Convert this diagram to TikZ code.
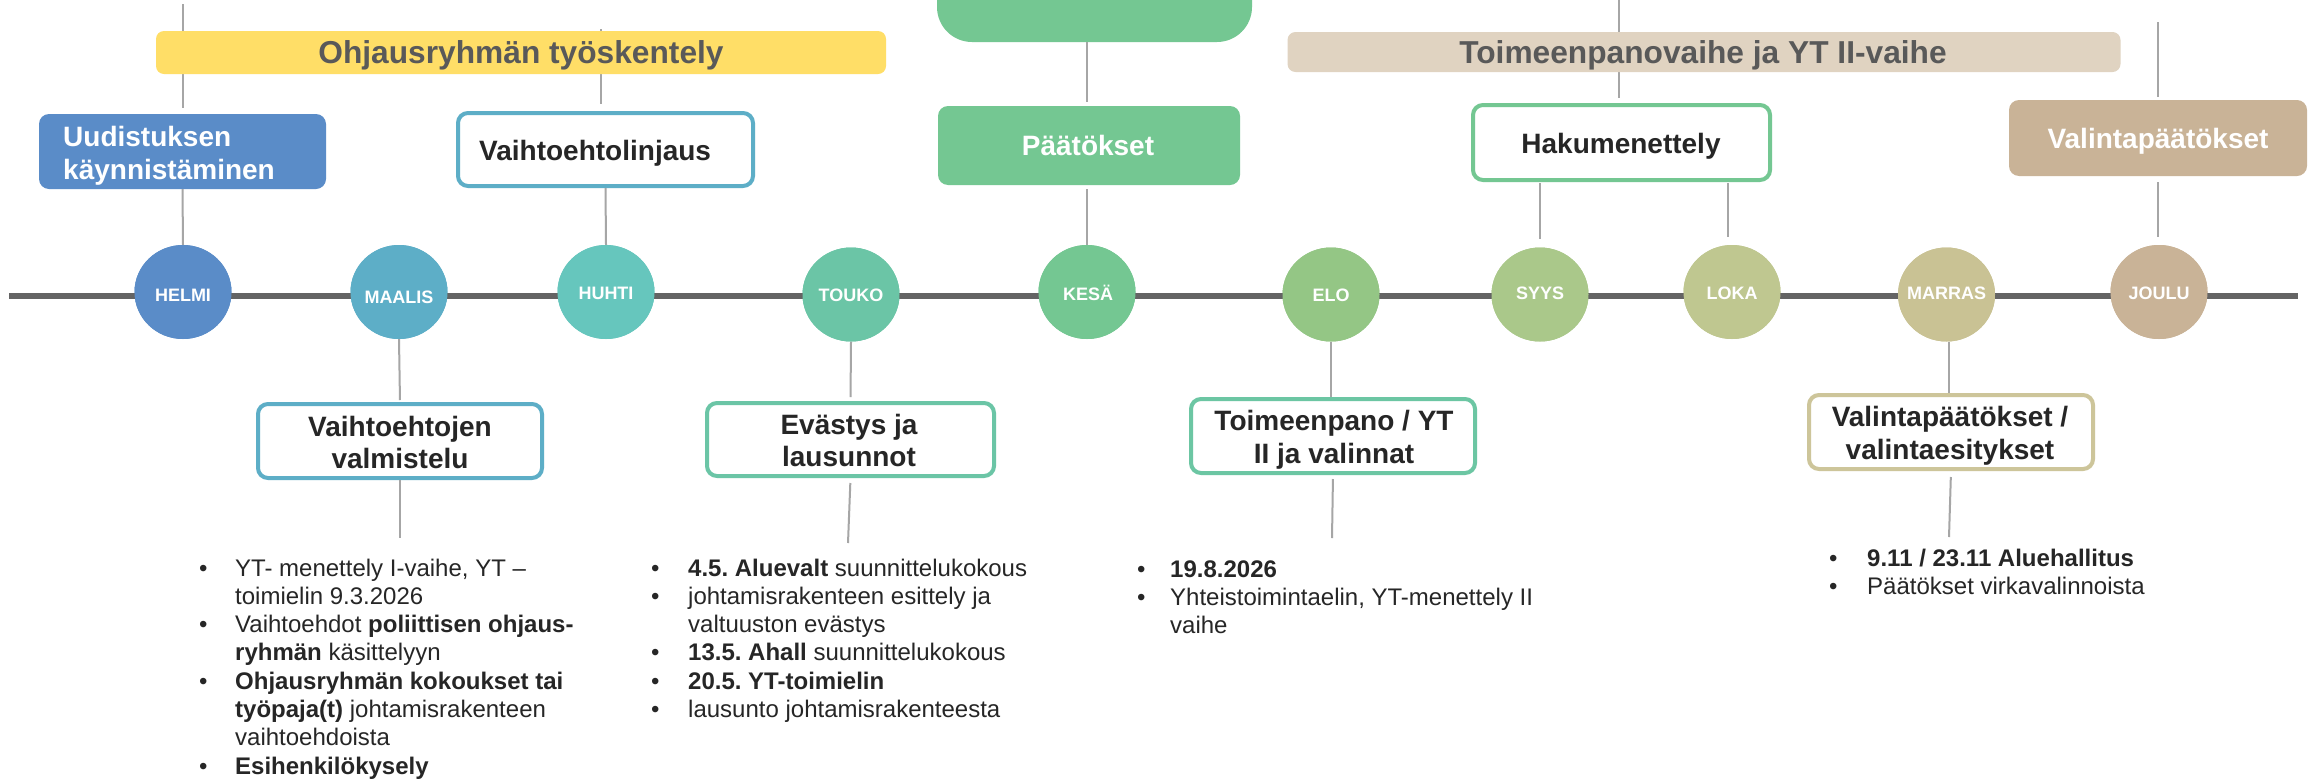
\documentclass[tikz,border=0pt]{standalone}
\usepackage{fontspec}
\setmainfont{Liberation Sans}
\usetikzlibrary{shapes.geometric}
\definecolor{cHelmi}{HTML}{5A8CC8}
\definecolor{cMaalis}{HTML}{5DAEC7}
\definecolor{cHuhti}{HTML}{66C6BD}
\definecolor{cTouko}{HTML}{6BC5A6}
\definecolor{cKesa}{HTML}{74C792}
\definecolor{cElo}{HTML}{94C685}
\definecolor{cSyys}{HTML}{AAC88A}
\definecolor{cLoka}{HTML}{BFC790}
\definecolor{cMarras}{HTML}{C9C294}
\definecolor{cJoulu}{HTML}{C9B397}
\definecolor{cYellow}{HTML}{FFDE67}
\definecolor{cTan}{HTML}{E0D3C1}
\definecolor{cLine}{HTML}{A6A6A6}
\definecolor{cAxis}{HTML}{646464}
\definecolor{cBar}{HTML}{595959}
\definecolor{cText}{HTML}{262626}
\definecolor{cToimB}{HTML}{6CC6A3}
\definecolor{cValB}{HTML}{CDC59A}
\newcommand{\bu}[1]{\makebox[#1][l]{\textbullet}}
\frenchspacing
\begin{document}
\begin{tikzpicture}[x=1pt,y=-1pt,
  conn/.style={draw=cLine, line width=2pt},
  month/.style={ellipse, fill=#1, minimum width=97pt, minimum height=94pt, inner sep=0pt},
  mlab/.style={text=white, font=\bfseries\fontsize{18}{20}\selectfont, inner sep=0pt, text height=13pt, text depth=0pt},
  fillbox/.style={rectangle, rounded corners=10pt, fill=#1, inner sep=0pt},
  linebox/.style={rectangle, rounded corners=10pt, draw=#1, line width=4pt, fill=white, inner sep=0pt},
  barbox/.style={rectangle, rounded corners=8pt, fill=#1, inner sep=0pt},
  ttl/.style={inner sep=0pt, anchor=base, text=cText, font=\bfseries\fontsize{28}{32.5}\selectfont},
  wttl/.style={ttl, text=white},
  bartxt/.style={inner sep=0pt, anchor=base, text=cBar, font=\bfseries\fontsize{31.7}{36}\selectfont},
  blist/.style={inner sep=0pt, anchor=base west, text=cText, font=\frenchspacing\fontsize{24}{28.3}\selectfont},
]
\useasboundingbox[fill=white] (0,0) rectangle (2313,782);

% free ends of connectors
\coordinate (t1) at (183,4);
\coordinate (t2) at (601,29);
\coordinate (t3) at (1619,-2);
\coordinate (t4) at (2158,22);
\coordinate (b1) at (400,538);
\coordinate (b2) at (848,543);
\coordinate (b3) at (1332,538);
\coordinate (b4) at (1949,537);
\coordinate (axL) at (9,296);
\coordinate (axR) at (2298,296);

% boxes (top row)
\node[fillbox=cHelmi, minimum width=287pt, minimum height=75pt] (uud) at (182.5,151.5) {};
\node[linebox=cMaalis, minimum width=295pt, minimum height=73pt] (vlinj) at (605.5,149.5) {};
\node[fillbox=cKesa, rounded corners=35pt, minimum width=315pt, minimum height=100pt] (ptop) at (1094.5,-8) {};
\node[fillbox=cKesa, minimum width=302pt, minimum height=79pt] (paat) at (1089,145.5) {};
\node[linebox=cKesa, minimum width=297pt, minimum height=75pt] (haku) at (1621.5,142.5) {};
\node[fillbox=cJoulu, minimum width=298pt, minimum height=76pt] (valtop) at (2158,138) {};

% boxes (bottom row)
\node[linebox=cMaalis, minimum width=284pt, minimum height=74pt] (vval) at (400,441) {};
\node[linebox=cTouko, minimum width=287pt, minimum height=73pt] (evas) at (850.5,439.5) {};
\node[linebox=cToimB, minimum width=284pt, minimum height=74pt] (toim) at (1333,436) {};
\node[linebox=cValB, minimum width=284pt, minimum height=74pt] (vales) at (1951,432) {};

% month circles
\node[month=cHelmi]  (helmi)  at (183,292) {};
\node[month=cMaalis] (maalis) at (399,292) {};
\node[month=cHuhti]  (huhti)  at (606,292) {};
\node[month=cTouko]  (touko)  at (851,294.5) {};
\node[month=cKesa]   (kesa)   at (1087,292) {};
\node[month=cElo]    (elo)    at (1331,294.5) {};
\node[month=cSyys]   (syys)   at (1540,294.5) {};
\node[month=cLoka]   (loka)   at (1732,292) {};
\node[month=cMarras] (marras) at (1946.5,294.5) {};
\node[month=cJoulu]  (joulu)  at (2159,292) {};

% connectors
\draw[conn, shorten >=6pt] (t1) -- (t1 |- uud.north);
\draw[conn] (uud.south) -- (helmi.north);
\draw[conn, shorten >=7pt] (t2) -- (t2 |- vlinj.north);
\draw[conn] (vlinj.south) -- (huhti.north);
\draw[conn, shorten >=2pt] (maalis.south) -- (vval.north);
\draw[conn] (vval.south) -- (b1);
\draw[conn, shorten >=4pt] (kesa.north |- ptop.south) -- (kesa.north |- paat.north);
\draw[conn, shorten <=4pt] (kesa.north |- paat.south) -- (kesa.north);
\draw[conn, shorten >=4pt] (touko.south) -- (evas.north);
\draw[conn, shorten <=5pt] (evas.south) -- (b2);
\draw[conn] (elo.south) -- (elo.south |- toim.north);
\draw[conn, shorten <=4pt] (toim.south) -- (b3);
\draw[conn, shorten >=5pt] (t3) -- (t3 |- haku.north);
\draw[conn, shorten <=1pt, shorten >=8pt] (syys.north |- haku.south) -- (syys.north);
\draw[conn, shorten <=1pt, shorten >=8pt] ([xshift=-4pt]loka.north |- haku.south) -- ([xshift=-4pt]loka.north);
\draw[conn] (b4 |- marras.south) -- (b4 |- vales.north);
\draw[conn, shorten <=6pt] (vales.south) -- (b4);
\draw[conn, shorten >=3pt] (t4) -- (valtop.north);
\draw[conn, shorten <=6pt, shorten >=8pt] (valtop.south) -- (valtop.south |- joulu.north);

% bars (drawn over the connectors)
\node[barbox=cYellow, minimum width=730pt, minimum height=43pt] (ohj) at (521,52.5) {};
\node[bartxt] (ohjt) at (521,63.5) {Ohjausryhmän työskentely};
\node[barbox=cTan, minimum width=833pt, minimum height=40pt] (toimv) at (1704,52) {};
\node[bartxt] (toimvt) at (1703,63) {Toimeenpanovaihe ja YT II-vaihe};

% timeline axis and circles on top
\draw[line width=6pt, cAxis] (axL) -- (axR);
\foreach \n/\c in {helmi/cHelmi,maalis/cMaalis,huhti/cHuhti,touko/cTouko,kesa/cKesa,elo/cElo,syys/cSyys,loka/cLoka,marras/cMarras,joulu/cJoulu}
  \fill[\c] (\n) ellipse [x radius=48.5pt, y radius=47pt];
\node[mlab] (lhelmi)  at (183,295)  {HELMI};
\node[mlab] (lmaalis) at (399,297)  {MAALIS};
\node[mlab] (lhuhti)  at (606,293)  {HUHTI};
\node[mlab] (ltouko)  at (851,295)  {TOUKO};
\node[mlab] (lkesa)   at (1088,294) {KESÄ};
\node[mlab] (lelo)    at (1331,295) {ELO};
\node[mlab] (lsyys)   at (1540,293) {SYYS};
\node[mlab] (lloka)   at (1732,293) {LOKA};
\node[mlab] (lmarras) at (1946.5,293) {MARRAS};
\node[mlab] (ljoulu)  at (2159,293) {JOULU};

% box titles
\node[wttl, anchor=base west] (uudt1) at (63,146) {Uudistuksen};
\node[wttl, anchor=base west] (uudt2) at (63,179) {käynnistäminen};
\node[ttl, anchor=base west] (vlinjt) at (479,160) {Vaihtoehtolinjaus};
\node[wttl] (paatt) at (1088,155) {Päätökset};
\node[ttl] (hakut) at (1621,153) {Hakumenettely};
\node[wttl] (valtopt) at (2158,148) {Valintapäätökset};
\node[ttl] (vvalt) at (400,436) {\begin{tabular}[t]{@{}c@{}}Vaihtoehtojen\\valmistelu\end{tabular}};
\node[ttl] (evast) at (849,434) {\begin{tabular}[t]{@{}c@{}}Evästys ja\\lausunnot\end{tabular}};
\node[ttl] (toimt) at (1334,430.5) {\begin{tabular}[t]{@{}c@{}}Toimeenpano / YT\\II ja valinnat\end{tabular}};
\node[ttl] (valest) at (1950,426.5) {\begin{tabular}[t]{@{}c@{}}Valintapäätökset /\\valintaesitykset\end{tabular}};

% bullet lists
\node[blist] (list1) at (199,576) {\begin{tabular}[t]{@{}l@{}l@{}}
\bu{36pt} & YT- menettely I-vaihe, YT –\\
 & toimielin 9.3.2026\\
\bu{36pt} & Vaihtoehdot \textbf{poliittisen ohjaus-}\\
 & \textbf{ryhmän} käsittelyyn\\
\bu{36pt} & \textbf{Ohjausryhmän kokoukset tai}\\
 & \textbf{työpaja(t)} johtamisrakenteen\\
 & vaihtoehdoista\\
\bu{36pt} & \textbf{Esihenkilökysely}
\end{tabular}};
\node[blist] (list2) at (651,576) {\begin{tabular}[t]{@{}l@{}l@{}}
\bu{37pt} & \textbf{4.5. Aluevalt} suunnittelukokous\\
\bu{37pt} & johtamisrakenteen esittely ja\\
 & valtuuston evästys\\
\bu{37pt} & \textbf{13.5. Ahall} suunnittelukokous\\
\bu{37pt} & \textbf{20.5. YT-toimielin}\\
\bu{37pt} & lausunto johtamisrakenteesta
\end{tabular}};
\node[blist] (list3) at (1137,577) {\begin{tabular}[t]{@{}l@{}l@{}}
\bu{33pt} & \textbf{19.8.2026}\\
\bu{33pt} & Yhteistoimintaelin, YT-menettely II\\
 & vaihe
\end{tabular}};
\node[blist] (list4) at (1829,566) {\begin{tabular}[t]{@{}l@{}l@{}}
\bu{38pt} & \textbf{9.11 / 23.11 Aluehallitus}\\
\bu{38pt} & Päätökset virkavalinnoista
\end{tabular}};
\end{tikzpicture}
\end{document}
